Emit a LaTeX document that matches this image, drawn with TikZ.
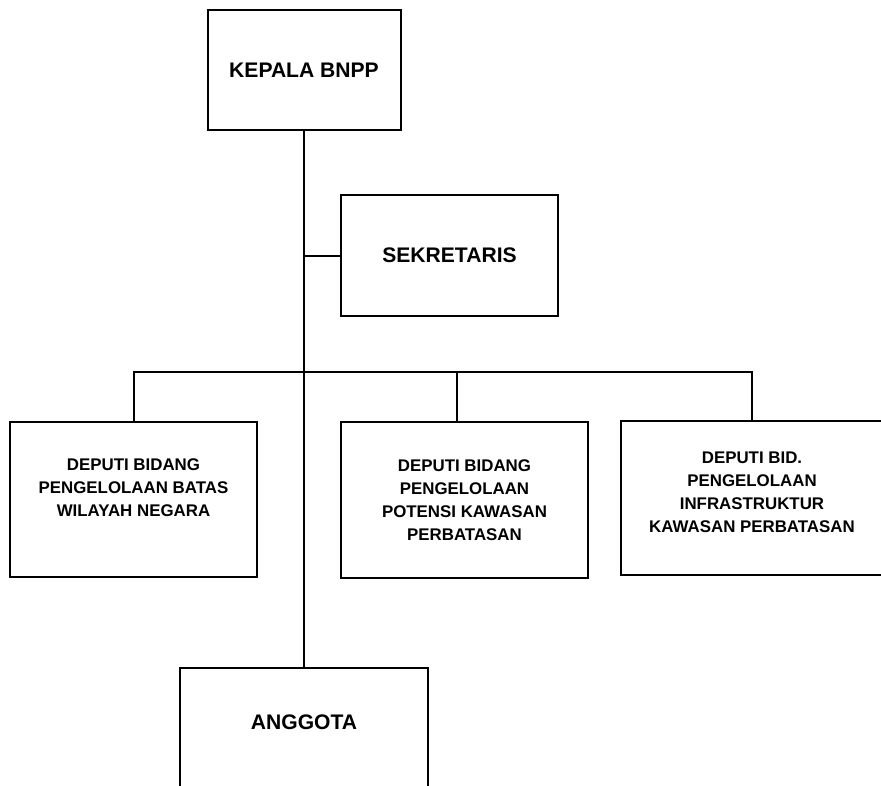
\documentclass[tikz,border=0pt]{standalone}
\usepackage{fontspec}
\setmainfont{Liberation Sans}
\begin{document}
\begin{tikzpicture}[
  orgbox/.style={shape=rectangle,draw,line width=0.05cm,align=center,font=\bfseries\fontsize{12}{16.3}\selectfont},
  headbox/.style={orgbox,font=\bfseries\fontsize{15}{18}\selectfont},
  boxtext/.style={align=center,font=\bfseries\fontsize{12}{16.3}\selectfont},
  headtext/.style={align=center,font=\bfseries\fontsize{15}{18}\selectfont},
  link/.style={line width=0.05cm}]
\useasboundingbox (0,0) rectangle (22.025,-19.625);
\clip (0,0) rectangle (22.025,-19.625);

\node[headbox,minimum width=4.825cm,minimum height=3cm] (kepala) at (7.6,-1.75) {KEPALA BNPP};
\node[headbox,minimum width=5.425cm,minimum height=3.025cm] (sekretaris) at (11.2375,-6.3875) {SEKRETARIS};

\node[orgbox,minimum width=6.175cm,minimum height=3.875cm] (deputi1) at (3.3375,-12.4875) {};
\node[boxtext] (deputi1text) at (3.3375,-12.2) {DEPUTI BIDANG\\PENGELOLAAN BATAS\\WILAYAH NEGARA};
\node[orgbox,minimum width=6.175cm,minimum height=3.9cm] (deputi2) at (11.6125,-12.5) {DEPUTI BIDANG\\PENGELOLAAN\\POTENSI KAWASAN\\PERBATASAN};
\node[orgbox,minimum width=6.55cm,minimum height=3.85cm] (deputi3) at (18.8,-12.45) {};
\node[boxtext] (deputi3text) at (18.8,-12.3) {DEPUTI BID.\\PENGELOLAAN\\INFRASTRUKTUR\\KAWASAN PERBATASAN};

\node[headbox,minimum width=6.2cm,minimum height=3.3cm] (anggota) at (7.6,-18.35) {};
\node[headtext] (anggotatext) at (7.6,-18.05) {ANGGOTA};

\coordinate (bus) at (7.6,-9.3);

% trunk and branches
\draw[link] (kepala) -- (anggota);
\draw[link] (kepala.south |- sekretaris.west) -- (sekretaris.west);
\draw[link] (deputi1.north) -- (deputi1.north |- bus) -- (deputi3.north |- bus) -- (deputi3.north);
\draw[link] ([xshift=-0.2cm]deputi2.north) -- ([xshift=-0.2cm]deputi2.north |- bus);
\end{tikzpicture}
\end{document}
